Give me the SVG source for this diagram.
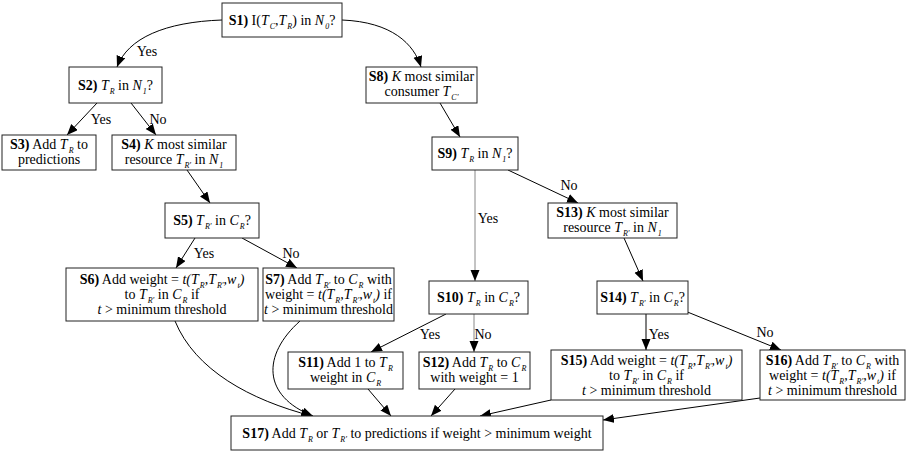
<svg xmlns="http://www.w3.org/2000/svg" width="908" height="453" viewBox="0 0 908 453" font-family="'Liberation Serif', 'Times New Roman', 'DejaVu Serif', serif">
<defs>
<marker id="ah" markerUnits="userSpaceOnUse" markerWidth="12" markerHeight="10" refX="11" refY="4.5" orient="auto"><path d="M0,0 L11,4.5 L0,9 z" fill="#000"/></marker>
<style>
text{font-family:'Liberation Serif','Times New Roman','DejaVu Serif',serif;font-size:14px;fill:#000;text-anchor:middle}
.b{font-weight:bold}
.i{font-style:italic}
.s{font-size:8px;font-style:italic;baseline-shift:-4px}
rect{fill:#fff;stroke:#222;stroke-width:1}
.c path,.c line{fill:none;stroke:#000;stroke-width:1;marker-end:url(#ah)}
.c .g{stroke:#888}
</style>
</defs>
<rect x="0" y="0" width="908" height="453" style="fill:#fff;stroke:none"/>
<g class="c" id="connectors">
<path d="M222,20 C165,22 128,38 117,67"/>
<path d="M342,20 C392,22 414,44 421,67"/>
<line x1="97" y1="103" x2="67" y2="135"/>
<line x1="131" y1="103" x2="156" y2="135"/>
<line x1="187" y1="170" x2="210" y2="203"/>
<line x1="195" y1="238" x2="176" y2="268"/>
<line x1="242" y1="238" x2="297" y2="268"/>
<line x1="440" y1="103" x2="460" y2="137"/>
<line class="g" x1="475" y1="170" x2="475" y2="281"/>
<line x1="508" y1="170" x2="578" y2="203"/>
<line x1="624" y1="238" x2="643" y2="281"/>
<line x1="446" y1="314" x2="371" y2="352"/>
<line class="g" x1="474" y1="314" x2="474" y2="352"/>
<line x1="646" y1="314" x2="646" y2="350"/>
<line x1="685" y1="311" x2="781" y2="350"/>
<path d="M175,321 C195,370 250,400 312,416"/>
<path d="M300,321 C262,355 262,396 313,416"/>
<line x1="368" y1="389" x2="391" y2="416"/>
<line x1="455" y1="389" x2="431" y2="416"/>
<line x1="551" y1="400" x2="480" y2="416"/>
<line x1="760" y1="398" x2="603" y2="420"/>
<text x="147" y="56">Yes</text>
<text x="101" y="124">Yes</text>
<text x="158" y="124">No</text>
<text x="204" y="258">Yes</text>
<text x="291" y="258">No</text>
<text x="488" y="223">Yes</text>
<text x="569" y="190">No</text>
<text x="430" y="339">Yes</text>
<text x="483" y="339">No</text>
<text x="659" y="339">Yes</text>
<text x="765" y="337">No</text>
</g>
<g id="S1"><rect x="222" y="3" width="120" height="34"/><text x="282" y="25"><tspan class="b">S1)</tspan> I(<tspan class="i">T</tspan><tspan class="s" dx="1">C</tspan>,<tspan class="i">T</tspan><tspan class="s" dx="1">R</tspan>) in <tspan class="i">N</tspan><tspan class="s" dx="1">0</tspan>?</text></g>
<g id="S2"><rect x="69" y="67" width="93" height="36"/><text x="115.5" y="90"><tspan class="b">S2)</tspan> <tspan class="i">T</tspan><tspan class="s" dx="1">R</tspan> in  <tspan class="i">N</tspan><tspan class="s" dx="1">1</tspan>?</text></g>
<g id="S3"><rect x="2" y="135" width="94" height="35"/><text x="49" y="149"><tspan class="b">S3)</tspan> Add <tspan class="i">T</tspan><tspan class="s" dx="1">R</tspan> to</text><text x="49" y="164">predictions</text></g>
<g id="S4"><rect x="112" y="135" width="124" height="35"/><text x="174" y="149"><tspan class="b">S4)</tspan> <tspan class="i">K</tspan> most similar</text><text x="174" y="164">resource <tspan class="i">T</tspan><tspan class="s" dx="1">R'</tspan> in  <tspan class="i">N</tspan><tspan class="s" dx="1">1</tspan></text></g>
<g id="S5"><rect x="165" y="203" width="94" height="35"/><text x="212" y="225"><tspan class="b">S5)</tspan> <tspan class="i">T</tspan><tspan class="s" dx="1">R'</tspan> in  <tspan class="i">C</tspan><tspan class="s" dx="1">R</tspan>?</text></g>
<g id="S6"><rect x="66" y="268" width="192" height="53"/><text x="162" y="284"><tspan class="b">S6)</tspan> Add weight = <tspan class="i">t(T</tspan><tspan class="s" dx="1">R</tspan><tspan class="i">,T</tspan><tspan class="s" dx="1">R'</tspan><tspan class="i">,w</tspan><tspan class="s" dx="1">t</tspan><tspan class="i">)</tspan></text><text x="162" y="299">to <tspan class="i">T</tspan><tspan class="s" dx="1">R'</tspan> in <tspan class="i">C</tspan><tspan class="s" dx="1">R</tspan> if</text><text x="162" y="314"><tspan class="i">t</tspan> &gt; minimum threshold</text></g>
<g id="S7"><rect x="263" y="268" width="131" height="53"/><text x="328.5" y="284"><tspan class="b">S7)</tspan> Add <tspan class="i">T</tspan><tspan class="s" dx="1">R'</tspan> to <tspan class="i">C</tspan><tspan class="s" dx="1">R</tspan> with</text><text x="328.5" y="299">weight = <tspan class="i">t(T</tspan><tspan class="s" dx="1">R</tspan><tspan class="i">,T</tspan><tspan class="s" dx="1">R'</tspan><tspan class="i">,w</tspan><tspan class="s" dx="1">t</tspan><tspan class="i">)</tspan> if</text><text x="328.5" y="314"><tspan class="i">t</tspan> &gt; minimum threshold</text></g>
<g id="S8"><rect x="366" y="67" width="111" height="36"/><text x="421.5" y="81"><tspan class="b">S8)</tspan> <tspan class="i">K</tspan> most similar</text><text x="421.5" y="96">consumer <tspan class="i">T</tspan><tspan class="s" dx="1">C'</tspan></text></g>
<g id="S9"><rect x="432" y="137" width="86" height="33"/><text x="475" y="158"><tspan class="b">S9)</tspan> <tspan class="i">T</tspan><tspan class="s" dx="1">R</tspan> in <tspan class="i">N</tspan><tspan class="s" dx="1">1</tspan>?</text></g>
<g id="S10"><rect x="429" y="281" width="99" height="33"/><text x="478.5" y="302"><tspan class="b">S10)</tspan> <tspan class="i">T</tspan><tspan class="s" dx="1">R</tspan> in <tspan class="i">C</tspan><tspan class="s" dx="1">R</tspan>?</text></g>
<g id="S11"><rect x="288" y="352" width="115" height="37"/><text x="345.5" y="367"><tspan class="b">S11)</tspan> Add 1 to <tspan class="i">T</tspan><tspan class="s" dx="1">R</tspan></text><text x="345.5" y="382">weight in <tspan class="i">C</tspan><tspan class="s" dx="1">R</tspan></text></g>
<g id="S12"><rect x="419" y="352" width="111" height="37"/><text x="474.5" y="367"><tspan class="b">S12)</tspan> Add <tspan class="i">T</tspan><tspan class="s" dx="1">R</tspan> to <tspan class="i">C</tspan><tspan class="s" dx="1">R</tspan></text><text x="474.5" y="382">with weight = 1</text></g>
<g id="S13"><rect x="548" y="203" width="129" height="35"/><text x="612.5" y="217"><tspan class="b">S13)</tspan> <tspan class="i">K</tspan> most similar</text><text x="612.5" y="232">resource <tspan class="i">T</tspan><tspan class="s" dx="1">R'</tspan> in <tspan class="i">N</tspan><tspan class="s" dx="1">1</tspan></text></g>
<g id="S14"><rect x="597" y="281" width="91" height="33"/><text x="642.5" y="302"><tspan class="b">S14)</tspan> <tspan class="i">T</tspan><tspan class="s" dx="1">R'</tspan> in <tspan class="i">C</tspan><tspan class="s" dx="1">R</tspan>?</text></g>
<g id="S15"><rect x="551" y="350" width="191" height="50"/><text x="646.5" y="365"><tspan class="b">S15)</tspan> Add weight = <tspan class="i">t(T</tspan><tspan class="s" dx="1">R</tspan><tspan class="i">,T</tspan><tspan class="s" dx="1">R'</tspan><tspan class="i">,w</tspan><tspan class="s" dx="1">t</tspan><tspan class="i">)</tspan></text><text x="646.5" y="380">to <tspan class="i">T</tspan><tspan class="s" dx="1">R'</tspan> in <tspan class="i">C</tspan><tspan class="s" dx="1">R</tspan> if</text><text x="646.5" y="395"><tspan class="i">t</tspan> &gt; minimum threshold</text></g>
<g id="S16"><rect x="760" y="350" width="145" height="50"/><text x="832.5" y="365"><tspan class="b">S16)</tspan> Add <tspan class="i">T</tspan><tspan class="s" dx="1">R'</tspan> to <tspan class="i">C</tspan><tspan class="s" dx="1">R</tspan> with</text><text x="832.5" y="380">weight =  <tspan class="i">t(T</tspan><tspan class="s" dx="1">R</tspan><tspan class="i">,T</tspan><tspan class="s" dx="1">R'</tspan><tspan class="i">,w</tspan><tspan class="s" dx="1">t</tspan><tspan class="i">)</tspan> if</text><text x="832.5" y="395"><tspan class="i">t</tspan> &gt; minimum threshold</text></g>
<g id="S17"><rect x="231" y="416" width="372" height="34"/><text x="417" y="438"><tspan class="b">S17)</tspan> Add <tspan class="i">T</tspan><tspan class="s" dx="1">R</tspan> or <tspan class="i">T</tspan><tspan class="s" dx="1">R'</tspan> to predictions if weight &gt; minimum weight</text></g>
</svg>
